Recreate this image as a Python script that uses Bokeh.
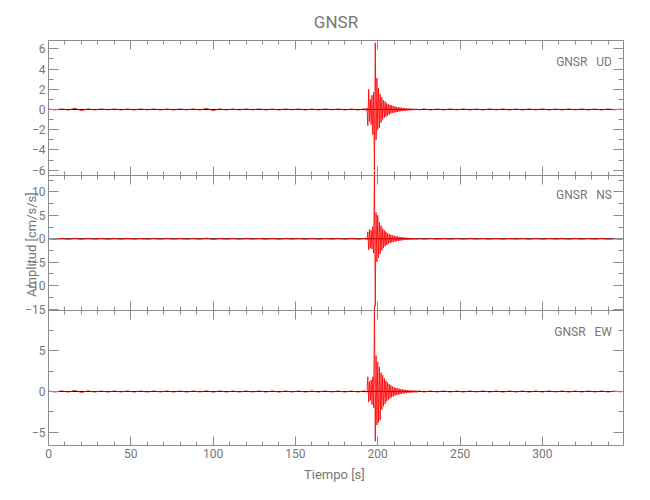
from bokeh.plotting import figure
from bokeh.models import (Range1d, LinearAxis, SingleIntervalTicker, FixedTicker, Span,
                          Label, ColumnDataSource)
from bokeh.embed import file_html
from bokeh.resources import INLINE

# ---------------- data ----------------
STATION = "GNSR"
COMPONENTS = ["UD", "NS", "EW"]

TIME = [
    0, 4, 8, 12, 16, 20, 24, 28, 32, 36, 40, 44, 48, 52, 56, 60, 64, 68, 72, 76,
    80, 84, 88, 92, 96, 100, 104, 108, 112, 116, 120, 124, 128, 132, 136, 140,
    144, 148, 152, 156, 160, 164, 168, 172, 176, 180, 184, 188, 192,
    193.0, 193.5, 194.0, 194.5, 195.0, 195.5, 196.0, 196.5, 197.0, 197.5,
    198.0, 198.5, 199.0, 199.5, 200.0, 200.5, 201.0, 201.5, 202.0, 202.5,
    203.0, 203.5, 204.0, 204.5, 205.0, 205.5, 206.0, 206.5, 207.0, 207.5,
    208.0, 208.5, 209.0, 209.5, 210.0, 210.5, 211.0, 211.5, 212.0, 212.5,
    213.0, 213.5, 214.0, 214.5, 215.0, 215.5, 216.0, 216.5, 217.0, 217.5,
    218.0, 218.5, 219.0, 219.5, 220.0, 220.5, 221.0, 221.5, 222.0, 222.5,
    223.0, 223.5, 224.0, 224.5, 225.0,
    228, 232, 236, 240, 244, 248, 252, 256, 260, 264, 268, 272, 276, 280, 284,
    288, 292, 296, 300, 304, 308, 312, 316, 320, 324, 328, 332, 336, 340, 344, 348,
]

UD = [
    0.04, -0.05, 0.05, -0.06, 0.12, -0.12, 0.06, -0.05, 0.05, -0.04, 0.05, -0.05,
    0.04, -0.05, 0.05, -0.04, 0.05, -0.05, 0.04, -0.05, 0.05, -0.04, 0.05, -0.06,
    0.12, -0.12, 0.06, -0.05, 0.04, -0.05, 0.05, -0.04, 0.05, -0.05, 0.04, -0.05,
    0.05, -0.04, 0.05, -0.05, 0.04, -0.05, 0.05, -0.04, 0.05, -0.05, 0.04, -0.05, 0.06,
    -0.10, 0.15,
    -1.6, 2.0,
    -1.2, 1.0,
    -1.5, 1.4,
    -2.5, 1.7,
    -6.0, 6.6,
    -3.0, 3.1,
    -2.0, 2.1,
    -1.8, 1.5,
    -1.3, 1.2,
    -1.0, 0.9,
    -0.8, 0.8,
    -0.7, 0.6,
    -0.6, 0.5,
    -0.5, 0.45,
    -0.4, 0.4,
    -0.35, 0.35,
    -0.3, 0.3,
    -0.28, 0.25,
    -0.25, 0.22,
    -0.2, 0.2,
    -0.18, 0.18,
    -0.15, 0.15,
    -0.14, 0.13,
    -0.12, 0.12,
    -0.1, 0.1,
    -0.1, 0.09,
    -0.08, 0.08,
    -0.07, 0.07,
    -0.07, 0.06,
    -0.06, 0.06,
    -0.06, 0.05,
    -0.05,
    0.05, -0.05, 0.04, -0.05, 0.05, -0.04, 0.05, -0.05, 0.04, -0.05, 0.05, -0.04,
    0.05, -0.05, 0.04, -0.05, 0.05, -0.04, 0.05, -0.05, 0.04, -0.05, 0.05, -0.04,
    0.05, -0.05, 0.04, -0.05, 0.05, -0.04, 0.04,
]

NS = [
    0.08, -0.08, 0.07, -0.09, 0.10, -0.10, 0.08, -0.07, 0.08, -0.08, 0.07, -0.08,
    0.08, -0.07, 0.08, -0.08, 0.07, -0.08, 0.08, -0.07, 0.08, -0.08, 0.07, -0.09,
    0.15, -0.16, 0.09, -0.08, 0.07, -0.08, 0.08, -0.07, 0.08, -0.08, 0.07, -0.08,
    0.08, -0.07, 0.08, -0.08, 0.07, -0.08, 0.08, -0.07, 0.08, -0.08, 0.07, -0.08, 0.09,
    0.15, -0.2,
    1.5, -2.4,
    2.0, -2.0,
    1.8, -2.2,
    2.6, -3.1,
    14.5, -14.4,
    5.6, -4.9,
    5.0, -4.0,
    3.5, -3.2,
    2.8, -2.5,
    2.2, -2.0,
    1.8, -1.6,
    1.5, -1.3,
    1.2, -1.1,
    1.0, -0.9,
    0.85, -0.8,
    0.75, -0.7,
    0.65, -0.6,
    0.55, -0.5,
    0.5, -0.45,
    0.42, -0.4,
    0.38, -0.35,
    0.32, -0.3,
    0.28, -0.26,
    0.25, -0.23,
    0.22, -0.2,
    0.19, -0.18,
    0.17, -0.16,
    0.15, -0.14,
    0.13, -0.13,
    0.12, -0.12,
    0.11, -0.11,
    0.1,
    -0.08, 0.08, -0.07, 0.08, -0.08, 0.07, -0.08, 0.08, -0.07, 0.08, -0.08, 0.07,
    -0.08, 0.08, -0.07, 0.08, -0.08, 0.07, -0.08, 0.08, -0.07, 0.08, -0.08, 0.07,
    -0.08, 0.08, -0.07, 0.08, -0.08, 0.07, -0.07,
]

EW = [
    0.06, -0.07, 0.08, -0.08, 0.14, -0.13, 0.08, -0.07, 0.06, -0.07, 0.07, -0.06,
    0.07, -0.07, 0.06, -0.07, 0.07, -0.06, 0.07, -0.07, 0.06, -0.07, 0.07, -0.06,
    0.08, -0.08, 0.07, -0.07, 0.06, -0.07, 0.07, -0.06, 0.07, -0.07, 0.06, -0.07,
    0.07, -0.06, 0.07, -0.07, 0.06, -0.07, 0.07, -0.06, 0.07, -0.07, 0.06, -0.07, 0.08,
    -0.1, 0.15,
    1.8, -1.3,
    1.2, -1.1,
    1.4, -1.6,
    1.8, -2.0,
    10.5, -6.1,
    4.4, -4.1,
    3.6, -3.8,
    3.0, -3.5,
    2.3, -2.2,
    2.0, -1.8,
    1.6, -1.5,
    1.3, -1.2,
    1.1, -1.0,
    0.9, -0.85,
    0.75, -0.7,
    0.6, -0.6,
    0.5, -0.5,
    0.45, -0.42,
    0.4, -0.38,
    0.35, -0.33,
    0.3, -0.28,
    0.26, -0.25,
    0.23, -0.22,
    0.2, -0.2,
    0.18, -0.17,
    0.16, -0.15,
    0.14, -0.14,
    0.13, -0.12,
    0.12, -0.11,
    0.11, -0.1,
    0.1, -0.1,
    0.09,
    -0.07, 0.07, -0.06, 0.07, -0.07, 0.06, -0.07, 0.07, -0.06, 0.07, -0.07, 0.06,
    -0.07, 0.07, -0.06, 0.07, -0.07, 0.06, -0.07, 0.07, -0.06, 0.07, -0.07, 0.06,
    -0.07, 0.07, -0.06, 0.07, -0.07, 0.06, -0.06,
]

X_LIMITS = (0, 349.3)
Y_LIMITS = [(-6.53, 6.82), (-15.3, 13.5), (-6.62, 9.93)]
Y_MAJOR = [[-6, -4, -2, 0, 2, 4, 6],
           [-15, -10, -5, 0, 5, 10],
           [-5, 0, 5]]
Y_MINOR = [[-5, -3, -1, 1, 3, 5],
           [-12.5, -7.5, -2.5, 2.5, 7.5, 12.5],
           [-2.5, 2.5, 7.5]]
X_TICK_STEP = 50
LABEL_Y = [4.65, 9.25, 7.35]

TITLE = STATION
XLABEL = "Tiempo  [s]"
YLABEL = "Amplitud  [cm/s/s]"

# ---------------- style ----------------
FONT = "Roboto"
LINE_GRAY = "#8c8c8c"
TEXT_GRAY = "#767676"
N = len(COMPONENTS)
PANEL_H = 135
FRAME_W, FRAME_H = 575, PANEL_H * N

p = figure(frame_width=FRAME_W, frame_height=FRAME_H,
           x_range=Range1d(*X_LIMITS), y_range=Range1d(0, N),
           output_backend="svg", toolbar_location=None,
           x_axis_location=None, y_axis_location=None,
           min_border_left=48, min_border_right=20,
           min_border_top=40, min_border_bottom=44,
           outline_line_color=LINE_GRAY,
           background_fill_color="white", border_fill_color="white")
p.grid.visible = False


def style_axis(ax, labels, tin, tmin, tout=0, mout=0):
    ax.axis_line_color = LINE_GRAY
    ax.major_tick_line_color = LINE_GRAY
    ax.minor_tick_line_color = LINE_GRAY
    ax.major_tick_in, ax.minor_tick_in = tin, tmin
    ax.major_tick_out, ax.minor_tick_out = tout, mout
    ax.major_label_text_font = FONT
    ax.major_label_text_color = TEXT_GRAY
    ax.major_label_text_font_size = "12px"
    ax.major_label_standoff = 3
    if not labels:
        ax.major_label_text_alpha = 0


label_ticks, label_text = [], {}

# one y range per component, each mapped onto its own band of the frame
for k, comp in enumerate(COMPONENTS):
    y0, y1 = Y_LIMITS[k]
    s = y1 - y0
    name = comp.lower()
    p.extra_y_ranges[name] = Range1d(y0 - (N - 1 - k) * s, y1 + k * s)

    for side, loc in (("left", X_LIMITS[0]), ("right", X_LIMITS[1])):
        ax = LinearAxis(y_range_name=name, fixed_location=loc,
                        ticker=FixedTicker(ticks=Y_MAJOR[k], minor_ticks=Y_MINOR[k]))
        style_axis(ax, False, 10, 5)
        p.add_layout(ax, side)

    # tick labels of this band, placed on the shared left label axis
    for v in Y_MAJOR[k]:
        pos = (N - 1 - k) + (v - y0) / s
        label_ticks.append(pos)
        label_text[pos] = str(v).replace("-", "\u2212")

    p.add_layout(Span(location=0, dimension="width", y_range_name=name,
                      line_color="black", line_width=1, level="underlay"))
    src = ColumnDataSource(dict(t=TIME, a=[UD, NS, EW][k]))
    p.line("t", "a", source=src, y_range_name=name,
           line_color="#ff0000", line_width=1, line_alpha=0.85)

    p.add_layout(Label(x=X_LIMITS[1] - 7, y=LABEL_Y[k], y_range_name=name,
                       text=STATION + " \u00a0 " + comp,
                       text_align="right", text_baseline="middle",
                       text_font=FONT, text_font_size="12px", text_color=TEXT_GRAY))

# left tick-label axis (labels + vertical axis title)
lab_axis = LinearAxis(ticker=FixedTicker(ticks=label_ticks, minor_ticks=[]),
                      major_label_overrides=label_text)
style_axis(lab_axis, True, 0, 0)
lab_axis.axis_line_color = None
lab_axis.major_tick_line_color = None
lab_axis.minor_tick_line_color = None
lab_axis.major_label_standoff = 3
lab_axis.axis_label = YLABEL
lab_axis.axis_label_text_font = FONT
lab_axis.axis_label_text_font_style = "normal"
lab_axis.axis_label_text_color = TEXT_GRAY
lab_axis.axis_label_text_font_size = "13px"
lab_axis.axis_label_standoff = -17
p.add_layout(lab_axis, "left")

# horizontal axes: top edge, panel boundaries, bottom edge (labelled)
xtop = LinearAxis(fixed_location=N, ticker=SingleIntervalTicker(interval=X_TICK_STEP, num_minor_ticks=5))
style_axis(xtop, False, 9, 4)
p.add_layout(xtop, "above")
for b in range(1, N):
    xb = LinearAxis(fixed_location=b, ticker=SingleIntervalTicker(interval=X_TICK_STEP, num_minor_ticks=5))
    style_axis(xb, False, 9, 4, 9, 4)
    p.add_layout(xb, "below")
xbot = LinearAxis(ticker=SingleIntervalTicker(interval=X_TICK_STEP, num_minor_ticks=5))
style_axis(xbot, True, 9, 4)
xbot.axis_label = XLABEL
xbot.axis_label_text_font = FONT
xbot.axis_label_text_font_style = "normal"
xbot.axis_label_text_color = TEXT_GRAY
xbot.axis_label_text_font_size = "13px"
xbot.axis_label_standoff = 6
p.add_layout(xbot, "below")

# title
p.title.text = TITLE
p.title.align = "center"
p.title.text_font = FONT
p.title.text_font_style = "normal"
p.title.text_font_size = "17px"
p.title.text_color = TEXT_GRAY
p.title.standoff = 18

with open("out.html", "w") as f:
    f.write(file_html(p, INLINE))
